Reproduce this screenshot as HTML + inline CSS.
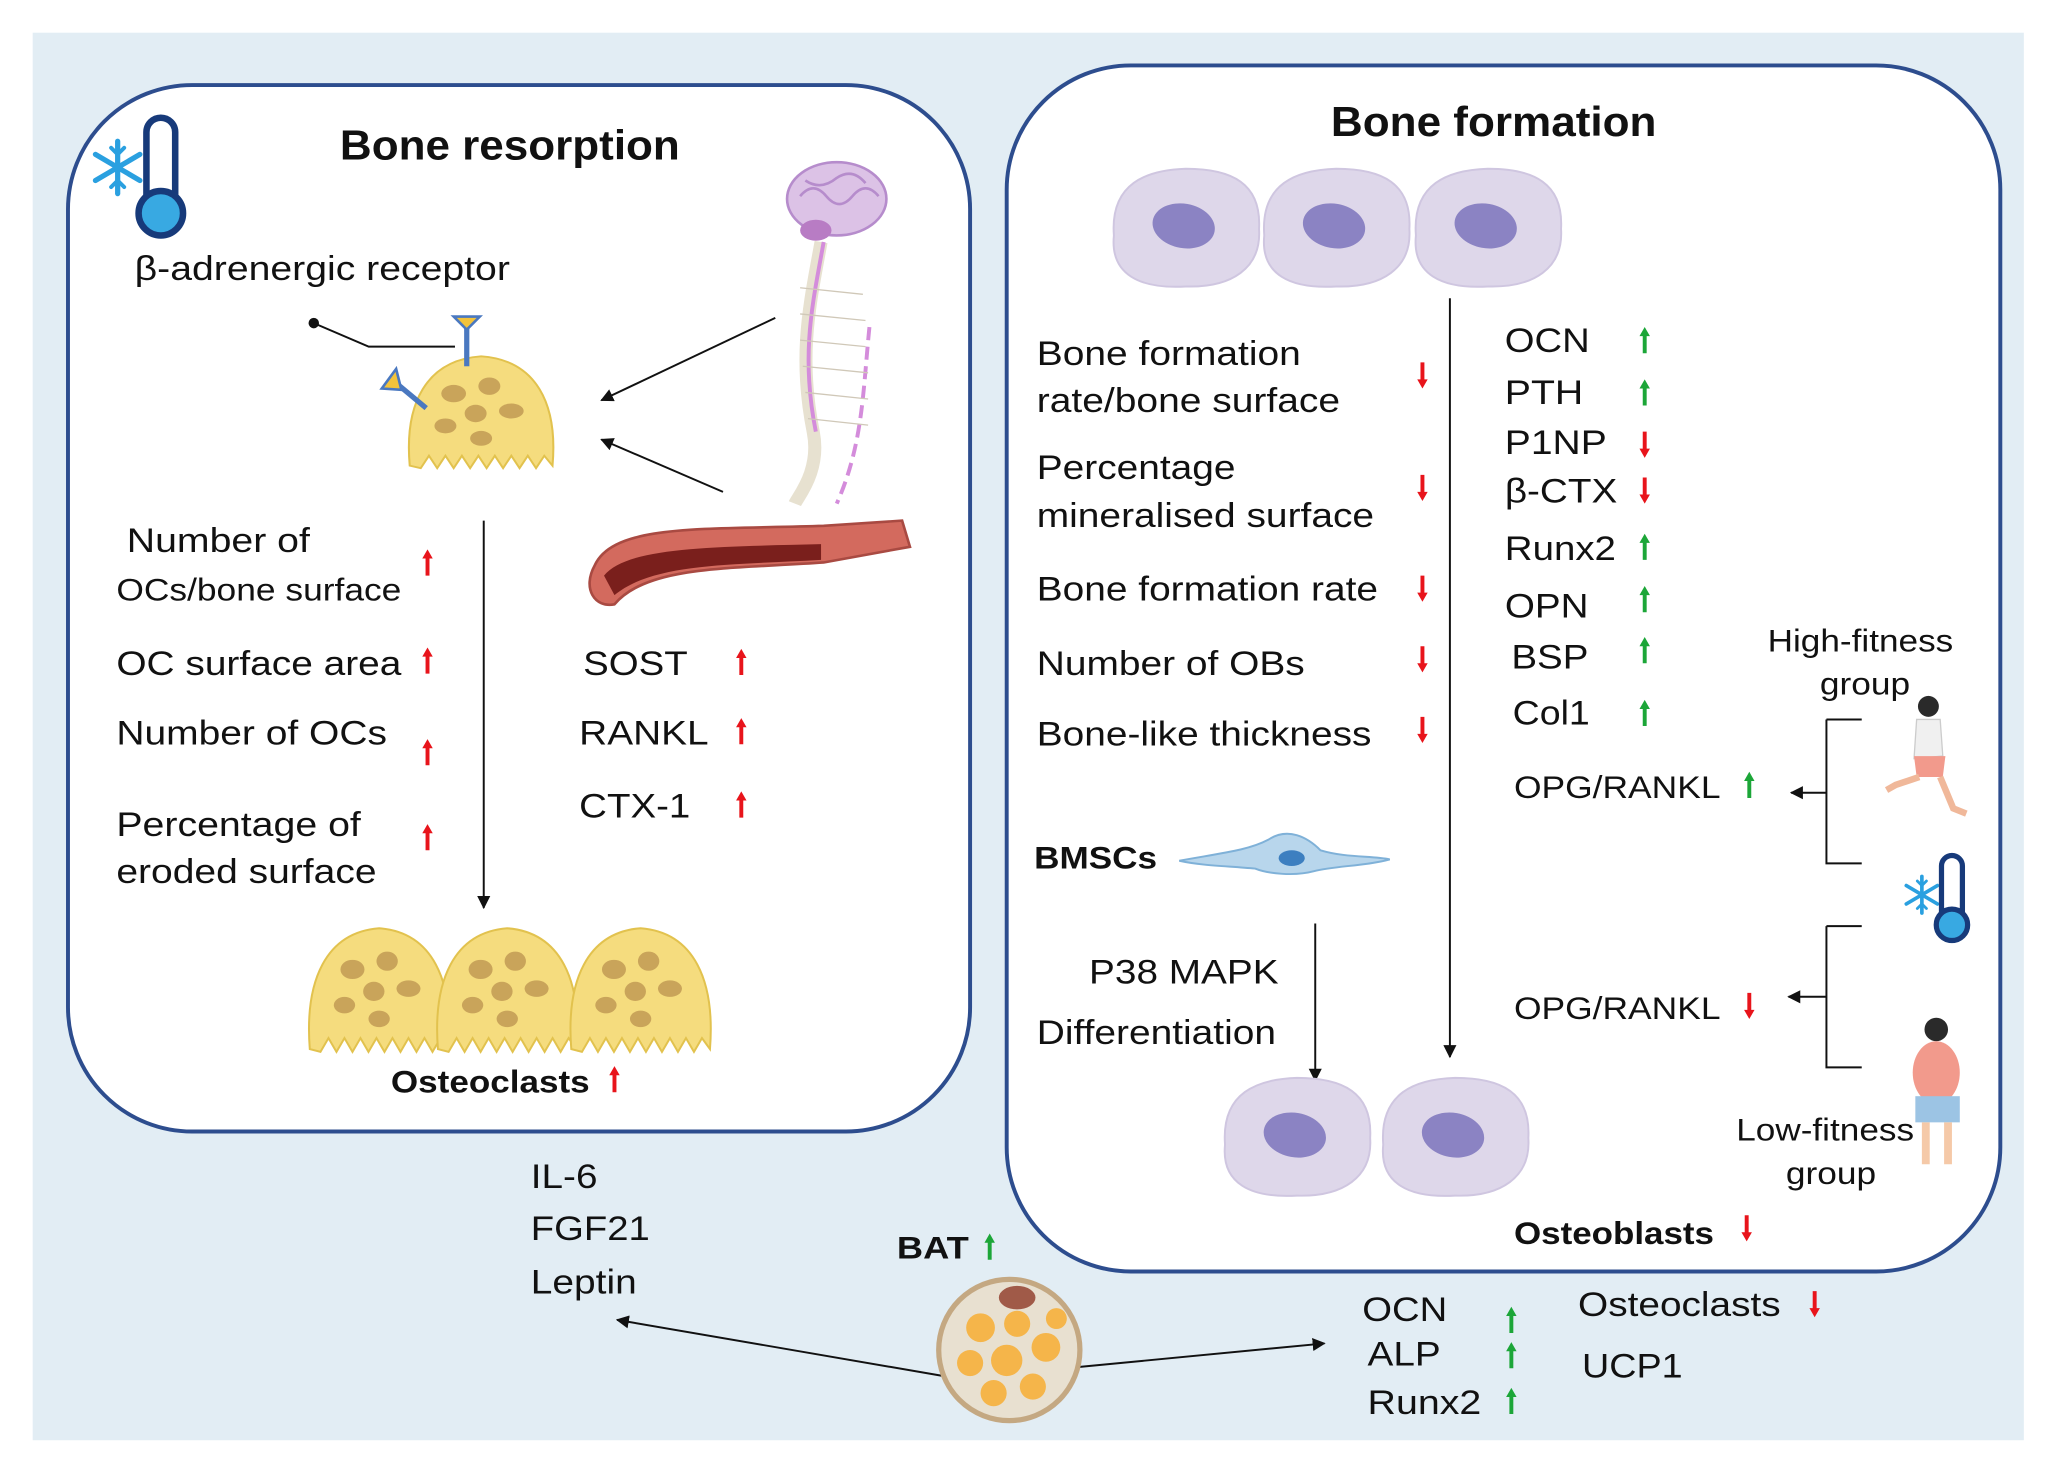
<!DOCTYPE html>
<html><head><meta charset="utf-8"><style>
html,body{margin:0;padding:0;background:#fff;}
svg{display:block;}
text{font-family:"Liberation Sans",sans-serif;fill:#111;}
</style></head><body>
<svg width="2050" height="1469" viewBox="0 0 1568 1123" preserveAspectRatio="none" xmlns="http://www.w3.org/2000/svg">
<defs>
<marker id="ah" markerWidth="10" markerHeight="10" refX="9" refY="5" orient="auto" markerUnits="userSpaceOnUse"><path d="M0,0 L10,5 L0,10 z" fill="#111"/></marker>
<g id="up"><path d="M0,-10 L-4,-3 L-1.5,-3 L-1.5,10 L1.5,10 L1.5,-3 L4,-3 z"/></g>
<g id="dn"><path d="M0,10 L-4,3 L-1.5,3 L-1.5,-10 L1.5,-10 L1.5,3 L4,3 z"/></g>
<g id="snow" stroke="#2aa0e0" stroke-width="4" stroke-linecap="round">
<line x1="0" y1="-20" x2="0" y2="20"/><line x1="-17" y1="-10" x2="17" y2="10"/><line x1="-17" y1="10" x2="17" y2="-10"/>
<path d="M-5,-15 L0,-10 L5,-15 M-5,15 L0,10 L5,15" fill="none" stroke-width="3"/>
</g>
<g id="oc">
<path d="M-52,40 C-56,-10 -40,-45 0,-48 C40,-45 56,-10 52,40 L46,32 L40,42 L34,32 L28,42 L22,32 L16,42 L10,32 L4,42 L-2,32 L-8,42 L-14,32 L-20,42 L-26,32 L-32,42 L-38,32 L-44,42 z" fill="#f5dc7e" stroke="#e2c24e" stroke-width="1.5"/>
<ellipse cx="-20" cy="-18" rx="9" ry="7" fill="#c9a45a"/><ellipse cx="6" cy="-24" rx="8" ry="7" fill="#c9a45a"/>
<ellipse cx="22" cy="-4" rx="9" ry="6" fill="#c9a45a"/><ellipse cx="-4" cy="-2" rx="8" ry="7" fill="#c9a45a"/>
<ellipse cx="-26" cy="8" rx="8" ry="6" fill="#c9a45a"/><ellipse cx="0" cy="18" rx="8" ry="6" fill="#c9a45a"/>
</g>
<g id="ob">
<path d="M-55,5 C-58,-35 -30,-45 0,-46 C35,-46 58,-35 56,0 C58,30 35,45 0,44 C-35,46 -58,35 -55,5 z" fill="#ded7ea" stroke="#cfc6e0" stroke-width="1.5"/>
<ellipse cx="-2" cy="-2" rx="24" ry="17" fill="#8b83c3" transform="rotate(10)"/>
</g>
</defs>
<rect x="0" y="0" width="1568" height="1123" fill="#fff"/>
<rect x="25" y="25" width="1523" height="1076" fill="#e2edf4"/>
<rect x="52" y="65" width="690" height="800" rx="95" fill="#fff" stroke="#2d4d8e" stroke-width="3"/>
<rect x="770" y="50" width="760" height="922" rx="95" fill="#fff" stroke="#2d4d8e" stroke-width="3"/>

<!-- Left box -->
<text x="260" y="122" font-size="32" font-weight="bold" textLength="260" lengthAdjust="spacingAndGlyphs">Bone resorption</text>
<use href="#snow" transform="translate(90,128)"/>
<rect x="112" y="90" width="22" height="70" rx="11" fill="#fff" stroke="#173a7a" stroke-width="5"/>
<circle cx="123" cy="163" r="17" fill="#38a9e2" stroke="#173a7a" stroke-width="5"/>
<text x="103" y="214" font-size="26" textLength="287" lengthAdjust="spacingAndGlyphs">β-adrenergic receptor</text>
<circle cx="240" cy="247" r="4" fill="#111"/>
<path d="M240,247 L282,265 L348,265" stroke="#111" stroke-width="1.5" fill="none"/>
<use href="#oc" transform="translate(368,318) scale(1.05,0.95)"/>
<line x1="357" y1="250" x2="357" y2="280" stroke="#4a78c0" stroke-width="4"/>
<path d="M347,242 L367,242 L357,252 z" fill="#f3c33b" stroke="#4a78c0" stroke-width="2"/>
<line x1="302" y1="292" x2="326" y2="312" stroke="#4a78c0" stroke-width="4"/>
<path d="M292,297 L303,282 L307,298 z" fill="#f3c33b" stroke="#4a78c0" stroke-width="2"/>
<!-- brain/spine -->
<ellipse cx="640" cy="152" rx="38" ry="28" fill="#dcc2e6" stroke="#b68ccc" stroke-width="2"/>
<path d="M612,150 q10,-12 20,0 q10,12 20,0 q10,-12 20,0 M616,138 q12,8 24,-2 q12,-8 22,4" stroke="#b68ccc" stroke-width="2" fill="none"/>
<ellipse cx="624" cy="176" rx="12" ry="8" fill="#b87cc4"/>
<path d="M628,185 C620,230 610,270 622,330 C628,360 610,380 608,385" stroke="#e7e1d0" stroke-width="10" fill="none"/>
<path d="M630,185 C622,230 612,270 624,330" stroke="#d48cdb" stroke-width="3" fill="none"/>
<path d="M665,250 C660,300 660,340 640,385" stroke="#d48cdb" stroke-width="3" fill="none" stroke-dasharray="10,5"/>
<g stroke="#d0c8b8" stroke-width="1">
<line x1="612" y1="220" x2="660" y2="225"/><line x1="612" y1="240" x2="662" y2="245"/><line x1="612" y1="260" x2="662" y2="265"/><line x1="614" y1="280" x2="664" y2="285"/><line x1="616" y1="300" x2="664" y2="305"/><line x1="618" y1="320" x2="664" y2="325"/>
</g>
<line x1="593" y1="243" x2="460" y2="306" stroke="#111" stroke-width="1.5" marker-end="url(#ah)"/>
<line x1="553" y1="376" x2="460" y2="336" stroke="#111" stroke-width="1.5" marker-end="url(#ah)"/>
<!-- vessel -->
<path d="M455,432 C470,400 540,405 630,402 L690,398 L696,418 L630,430 C560,435 495,432 470,462 C455,465 445,450 455,432 z" fill="#d36a5e" stroke="#a94a42" stroke-width="2"/>
<path d="M462,440 C480,418 545,418 628,416 L628,428 C560,432 500,430 470,455 z" fill="#7a1f1c"/>
<line x1="370" y1="398" x2="370" y2="694" stroke="#111" stroke-width="1.5" marker-end="url(#ah)"/>
<g font-size="26" lengthAdjust="spacingAndGlyphs">
<text x="97" y="422" textLength="140" lengthAdjust="spacingAndGlyphs">Number of</text>
<text x="89" y="459" font-size="24" textLength="218" lengthAdjust="spacingAndGlyphs">OCs/bone surface</text>
<text x="89" y="516" textLength="218" lengthAdjust="spacingAndGlyphs">OC surface area</text>
<text x="89" y="569" textLength="207" lengthAdjust="spacingAndGlyphs">Number of OCs</text>
<text x="89" y="639" textLength="187" lengthAdjust="spacingAndGlyphs">Percentage of</text>
<text x="89" y="675" textLength="199" lengthAdjust="spacingAndGlyphs">eroded surface</text>
<text x="446" y="516" textLength="80" lengthAdjust="spacingAndGlyphs">SOST</text>
<text x="443" y="569" textLength="99" lengthAdjust="spacingAndGlyphs">RANKL</text>
<text x="443" y="625" textLength="85" lengthAdjust="spacingAndGlyphs">CTX-1</text>
</g>
<g fill="#e8141b">
<use href="#up" x="327" y="430"/><use href="#up" x="327" y="505"/><use href="#up" x="327" y="575"/><use href="#up" x="327" y="640"/>
<use href="#up" x="567" y="506"/><use href="#up" x="567" y="559"/><use href="#up" x="567" y="615"/>
<use href="#up" x="470" y="825"/>
</g>
<use href="#oc" transform="translate(290,760) scale(1.02,1.05)"/>
<use href="#oc" transform="translate(388,760) scale(1.02,1.05)"/>
<use href="#oc" transform="translate(490,760) scale(1.02,1.05)"/>
<text x="299" y="835" font-size="24" font-weight="bold" textLength="152" lengthAdjust="spacingAndGlyphs">Osteoclasts</text>

<!-- Right box -->
<text x="1018" y="104" font-size="32" font-weight="bold" textLength="249" lengthAdjust="spacingAndGlyphs">Bone formation</text>
<use href="#ob" transform="translate(907,175)"/>
<use href="#ob" transform="translate(1022,175)"/>
<use href="#ob" transform="translate(1138,175)"/>
<g font-size="26">
<text x="793" y="279" textLength="202" lengthAdjust="spacingAndGlyphs">Bone formation</text>
<text x="793" y="315" textLength="232" lengthAdjust="spacingAndGlyphs">rate/bone surface</text>
<text x="793" y="366" textLength="152" lengthAdjust="spacingAndGlyphs">Percentage</text>
<text x="793" y="403" textLength="258" lengthAdjust="spacingAndGlyphs">mineralised surface</text>
<text x="793" y="459" textLength="261" lengthAdjust="spacingAndGlyphs">Bone formation rate</text>
<text x="793" y="516" textLength="205" lengthAdjust="spacingAndGlyphs">Number of OBs</text>
<text x="793" y="570" textLength="256" lengthAdjust="spacingAndGlyphs">Bone-like thickness</text>
<text x="1151" y="269" textLength="65" lengthAdjust="spacingAndGlyphs">OCN</text>
<text x="1151" y="309" textLength="60" lengthAdjust="spacingAndGlyphs">PTH</text>
<text x="1151" y="347" textLength="78" lengthAdjust="spacingAndGlyphs">P1NP</text>
<text x="1151" y="384" textLength="86" lengthAdjust="spacingAndGlyphs">β-CTX</text>
<text x="1151" y="428" textLength="85" lengthAdjust="spacingAndGlyphs">Runx2</text>
<text x="1151" y="472" textLength="64" lengthAdjust="spacingAndGlyphs">OPN</text>
<text x="1156" y="511" textLength="59" lengthAdjust="spacingAndGlyphs">BSP</text>
<text x="1157" y="554" textLength="59" lengthAdjust="spacingAndGlyphs">Col1</text>
<text x="1158" y="610" font-size="24" textLength="158" lengthAdjust="spacingAndGlyphs">OPG/RANKL</text>
<text x="1158" y="779" font-size="24" textLength="158" lengthAdjust="spacingAndGlyphs">OPG/RANKL</text>
<text x="1352" y="498" font-size="24" textLength="142" lengthAdjust="spacingAndGlyphs">High-fitness</text>
<text x="1392" y="531" font-size="24" textLength="69" lengthAdjust="spacingAndGlyphs">group</text>
<text x="1328" y="872" font-size="24" textLength="136" lengthAdjust="spacingAndGlyphs">Low-fitness</text>
<text x="1366" y="905" font-size="24" textLength="69" lengthAdjust="spacingAndGlyphs">group</text>
<text x="833" y="752" textLength="145" lengthAdjust="spacingAndGlyphs">P38 MAPK</text>
<text x="793" y="798" textLength="183" lengthAdjust="spacingAndGlyphs">Differentiation</text>
</g>
<g fill="#e8141b">
<use href="#dn" x="1088" y="287"/><use href="#dn" x="1088" y="373"/><use href="#dn" x="1088" y="450"/><use href="#dn" x="1088" y="504"/><use href="#dn" x="1088" y="558"/>
<use href="#dn" x="1258" y="340"/><use href="#dn" x="1258" y="375"/>
<use href="#dn" x="1338" y="769"/><use href="#dn" x="1336" y="939"/><use href="#dn" x="1388" y="997"/>
</g>
<g fill="#1ca638">
<use href="#up" x="1258" y="260"/><use href="#up" x="1258" y="300"/><use href="#up" x="1258" y="418"/><use href="#up" x="1258" y="458"/><use href="#up" x="1258" y="497"/><use href="#up" x="1258" y="545"/>
<use href="#up" x="1338" y="600"/>
<use href="#up" x="757" y="953"/>
<use href="#up" x="1156" y="1009"/><use href="#up" x="1156" y="1036"/><use href="#up" x="1156" y="1071"/>
</g>
<text x="791" y="664" font-size="24" font-weight="bold" textLength="94" lengthAdjust="spacingAndGlyphs">BMSCs</text>
<path d="M902,658 C935,652 955,650 970,642 C985,632 1000,640 1010,650 C1030,656 1050,654 1063,657 C1045,662 1020,662 1005,666 C990,670 970,668 960,664 C940,662 920,662 902,658 z" fill="#b8d6ec" stroke="#7fb1d8" stroke-width="1.5"/>
<ellipse cx="988" cy="656" rx="10" ry="6" fill="#3d7fc0"/>
<line x1="1109" y1="228" x2="1109" y2="808" stroke="#111" stroke-width="1.5" marker-end="url(#ah)"/>
<line x1="1006" y1="706" x2="1006" y2="826" stroke="#111" stroke-width="1.5" marker-end="url(#ah)"/>
<use href="#ob" transform="translate(992,870)"/>
<use href="#ob" transform="translate(1113,870)"/>
<text x="1158" y="951" font-size="24" font-weight="bold" textLength="153" lengthAdjust="spacingAndGlyphs">Osteoblasts</text>
<!-- brackets -->
<path d="M1397,550 L1397,660 L1424,660 M1397,550 L1424,550" stroke="#111" stroke-width="1.5" fill="none"/>
<line x1="1397" y1="606" x2="1370" y2="606" stroke="#111" stroke-width="1.5" marker-end="url(#ah)"/>
<path d="M1397,708 L1397,816 L1424,816 M1397,708 L1424,708" stroke="#111" stroke-width="1.5" fill="none"/>
<line x1="1397" y1="762" x2="1368" y2="762" stroke="#111" stroke-width="1.5" marker-end="url(#ah)"/>
<!-- runner -->
<g>
<circle cx="1475" cy="540" r="8" fill="#2a2a2a"/>
<path d="M1466,550 L1484,550 L1486,578 L1464,580 z" fill="#f0f0f0" stroke="#ccc"/>
<path d="M1464,578 L1488,578 L1486,594 L1466,594 z" fill="#f29a8c"/>
<path d="M1468,594 L1450,600 L1443,604 M1484,594 L1494,618 L1504,622" stroke="#f0b89a" stroke-width="5" fill="none"/>
</g>
<!-- thermometer right -->
<use href="#snow" transform="translate(1470,684) scale(0.7)"/>
<rect x="1485" y="654" width="16" height="52" rx="8" fill="#fff" stroke="#173a7a" stroke-width="4"/>
<circle cx="1493" cy="707" r="12" fill="#38a9e2" stroke="#173a7a" stroke-width="4"/>
<!-- low fitness person -->
<g>
<circle cx="1481" cy="787" r="9" fill="#2a2a2a"/>
<ellipse cx="1481" cy="820" rx="18" ry="24" fill="#f29a8c"/>
<rect x="1465" y="838" width="34" height="20" fill="#9cc4e4"/>
<path d="M1473,858 L1473,890 M1490,858 L1490,890" stroke="#f5c9a8" stroke-width="6"/>
</g>

<!-- Bottom -->
<g font-size="26">
<text x="406" y="908" textLength="51" lengthAdjust="spacingAndGlyphs">IL-6</text>
<text x="406" y="948" textLength="91" lengthAdjust="spacingAndGlyphs">FGF21</text>
<text x="406" y="989" textLength="81" lengthAdjust="spacingAndGlyphs">Leptin</text>
<text x="1042" y="1010" textLength="65" lengthAdjust="spacingAndGlyphs">OCN</text>
<text x="1046" y="1044" textLength="56" lengthAdjust="spacingAndGlyphs">ALP</text>
<text x="1046" y="1081" textLength="87" lengthAdjust="spacingAndGlyphs">Runx2</text>
<text x="1207" y="1006" textLength="155" lengthAdjust="spacingAndGlyphs">Osteoclasts</text>
<text x="1210" y="1053" textLength="77" lengthAdjust="spacingAndGlyphs">UCP1</text>
</g>
<text x="686" y="962" font-size="24" font-weight="bold" textLength="55" lengthAdjust="spacingAndGlyphs">BAT</text>
<line x1="722" y1="1052" x2="472" y2="1009" stroke="#111" stroke-width="1.5" marker-end="url(#ah)"/>
<line x1="825" y1="1045" x2="1013" y2="1027" stroke="#111" stroke-width="1.5" marker-end="url(#ah)"/>
<circle cx="772" cy="1032" r="54" fill="#e8e0d0" stroke="#c4a882" stroke-width="4"/>
<g fill="#f5b54a">
<circle cx="750" cy="1015" r="11"/><circle cx="778" cy="1012" r="10"/><circle cx="800" cy="1030" r="11"/><circle cx="770" cy="1040" r="12"/><circle cx="742" cy="1042" r="10"/><circle cx="760" cy="1065" r="10"/><circle cx="790" cy="1060" r="10"/><circle cx="808" cy="1008" r="8"/>
</g>
<ellipse cx="778" cy="992" rx="14" ry="9" fill="#a05a48"/>
</svg>
</body></html>
